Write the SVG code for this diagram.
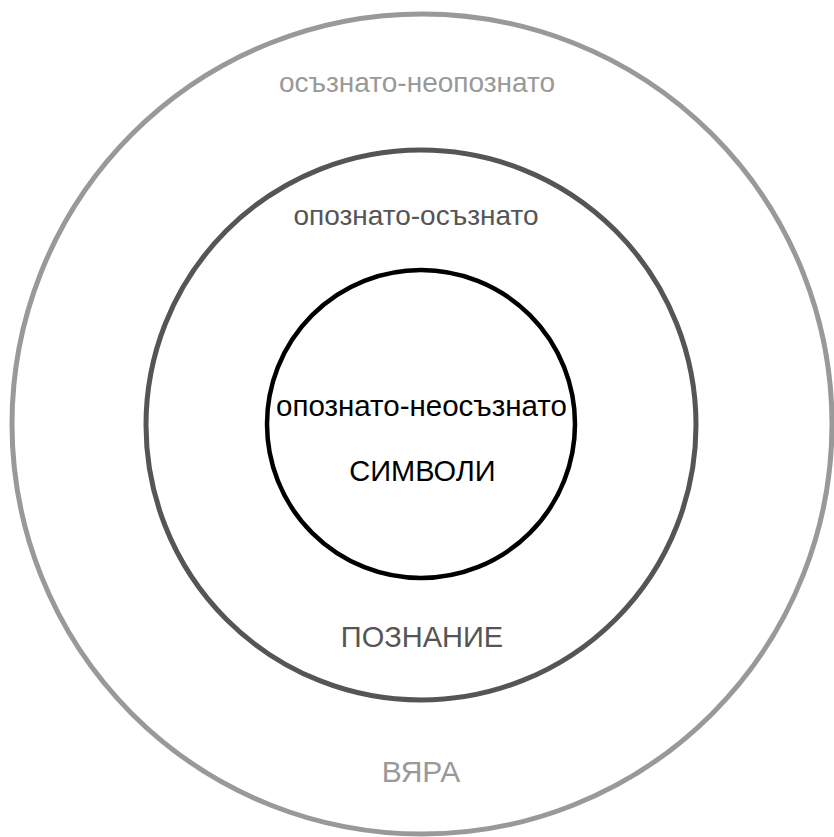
<svg xmlns="http://www.w3.org/2000/svg" width="834" height="837" viewBox="0 0 834 837">
<style>
  .ring { fill: none; }
  text { font-family: "Liberation Sans", Arial, sans-serif; font-size: 28px; text-anchor: middle; }
  .outer { stroke: #999999; stroke-width: 5; }
  .middle { stroke: #555555; stroke-width: 5; }
  .inner { stroke: #000000; stroke-width: 4.5; }
  .t-outer { fill: #999999; }
  .t-middle { fill: #555555; }
  .t-inner { fill: #000000; font-size: 29.5px; }
  .caps { font-size: 29px; }
</style>
<rect width="834" height="837" fill="#ffffff"/>
<g id="outer">
  <circle class="ring outer" cx="422" cy="424" r="410"/>
  <text class="t-outer" x="417" y="92">осъзнато-неопознато</text>
  <text class="t-outer caps" x="421" y="782" style="font-size:30px">ВЯРА</text>
</g>
<g id="middle">
  <circle class="ring middle" cx="421" cy="425" r="275"/>
  <text class="t-middle" x="416" y="225">опознато-осъзнато</text>
  <text class="t-middle caps" x="422" y="647">ПОЗНАНИЕ</text>
</g>
<g id="inner">
  <circle class="ring inner" cx="421" cy="424" r="154"/>
  <text class="t-inner" x="421.5" y="416">опознато-неосъзнато</text>
  <text class="t-inner caps" x="422.5" y="481">СИМВОЛИ</text>
</g>
<g id="connectors"></g>
</svg>
